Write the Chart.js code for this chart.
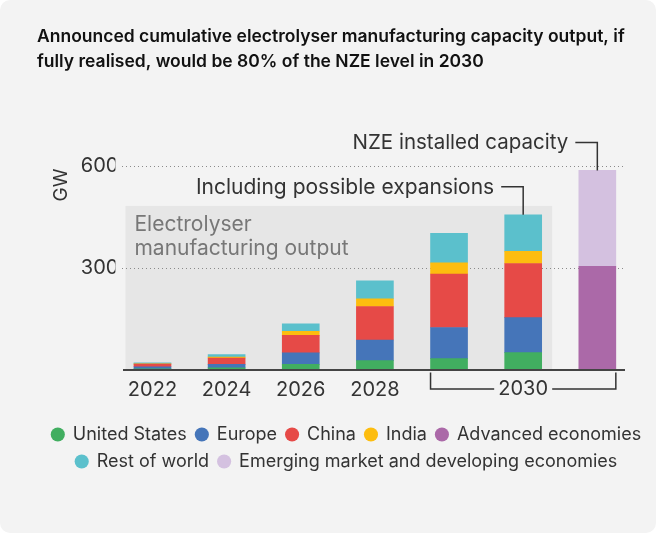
<!DOCTYPE html>
<html>
<head>
<meta charset="utf-8">
<script src="https://cdn.jsdelivr.net/npm/chart.js@4.4.1/dist/chart.umd.min.js"></script>
<style>
  html, body { margin: 0; padding: 0; background: #ffffff; }
  #card { position: absolute; left: 0; top: 0; width: 656px; height: 533px; background: #f3f3f3; border-radius: 10px; }
  #chart { position: absolute; left: 0; top: 0; }
</style>
</head>
<body>
<div id="card"></div>
<canvas id="chart" width="658" height="535"></canvas>
<script>
// categories and tick labels
var categories = ['2022', '2024', '2026', '2028', '2030', '2030 incl. expansions', 'NZE 2030'];
var tickLabels = ['2022', '2024', '2026', '2028', '', '', ''];
var bracketLabel = '2030';
var yTicks = [300, 600];

// GW
var unitedStates = [2, 5, 15, 26, 32, 50, null];
var europe = [6, 10, 34, 61, 92, 103, null];
var china = [8, 19, 52, 99, 158, 160, null];
var india = [1, 3, 12, 23, 33, 36, null];
var advanced = [null, null, null, null, null, null, 305];
var restOfWorld = [3, 7, 22, 53, 87, 108, null];
var emerging = [null, null, null, null, null, null, 283];

var outputBoxTop = 483;

var FONT = 'Inter, "Noto Sans", sans-serif';
var TEXT = '#333333';

function stackTotal(i) {
  return [unitedStates, europe, china, india, advanced, restOfWorld, emerging]
    .reduce(function (s, arr) { return s + (arr[i] || 0); }, 0);
}

function ds(label, data, color) {
  return { label: label, data: data, backgroundColor: color, borderWidth: 0, stack: 'a', barThickness: 37 };
}

var decor = {
  id: 'decor',
  beforeDatasetsDraw: function (chart) {
    var ctx = chart.ctx, x = chart.scales.x, y = chart.scales.y;
    var y0 = y.getPixelForValue(0);
    // shaded "manufacturing output" area
    var left = x.getPixelForValue(0) - 27;
    var right = x.getPixelForValue(5) + 29;
    var top = y.getPixelForValue(outputBoxTop);
    ctx.save();
    ctx.fillStyle = '#e6e6e6';
    ctx.fillRect(left, top, right - left, y0 - top);
    ctx.fillStyle = '#777777';
    ctx.font = '21px ' + FONT;
    ctx.textAlign = 'left';
    ctx.textBaseline = 'alphabetic';
    ctx.fillText('Electrolyser', left + 9, top + 25);
    ctx.fillText('manufacturing output', left + 9, top + 49);
    // dotted gridlines
    ctx.strokeStyle = '#8a8a8a';
    ctx.lineWidth = 1;
    ctx.setLineDash([1, 3]);
    yTicks.forEach(function (v) {
      var py = Math.round(y.getPixelForValue(v)) + 0.5;
      ctx.beginPath();
      ctx.moveTo(122, py);
      ctx.lineTo(623, py);
      ctx.stroke();
    });
    ctx.restore();
  },
  afterDatasetsDraw: function (chart) {
    var ctx = chart.ctx, x = chart.scales.x, y = chart.scales.y;
    var y0 = y.getPixelForValue(0);
    ctx.save();
    // axis line
    ctx.strokeStyle = '#444444';
    ctx.lineWidth = 2;
    ctx.beginPath();
    ctx.moveTo(123, y0 + 0.5);
    ctx.lineTo(625, y0 + 0.5);
    ctx.stroke();

    // 2030 bracket
    var bl = x.getPixelForValue(4) - 18.5, br = x.getPixelForValue(6) + 18.5;
    var bc = (bl + br) / 2, by = y0 + 19.5;
    ctx.strokeStyle = TEXT;
    ctx.lineWidth = 1.5;
    ctx.beginPath();
    ctx.moveTo(bl, y0 + 3); ctx.lineTo(bl, by); ctx.lineTo(bc - 29, by);
    ctx.moveTo(bc + 29, by); ctx.lineTo(br, by); ctx.lineTo(br, y0 + 3);
    ctx.stroke();
    ctx.fillStyle = TEXT;
    ctx.font = '20px ' + FONT;
    ctx.textAlign = 'center';
    ctx.textBaseline = 'middle';
    ctx.fillText(bracketLabel, bc, by);

    // annotations
    function note(i, text, size) {
      var cx = x.getPixelForValue(i);
      var top = y.getPixelForValue(stackTotal(i));
      var ly = top - 28;
      ctx.beginPath();
      ctx.moveTo(cx - 22, ly); ctx.lineTo(cx, ly); ctx.lineTo(cx, top);
      ctx.stroke();
      ctx.textAlign = 'right';
      ctx.textBaseline = 'alphabetic';
      ctx.font = size + 'px ' + FONT;
      ctx.fillText(text, cx - 29, ly + 7);
    }
    note(6, 'NZE installed capacity', 20.5);
    note(5, 'Including possible expansions', 21);

    // unit label
    ctx.save();
    ctx.translate(61, 185);
    ctx.rotate(-Math.PI / 2);
    ctx.textAlign = 'center';
    ctx.textBaseline = 'middle';
    ctx.font = '19px ' + FONT;
    ctx.fillText('GW', 0, 0);
    ctx.restore();

    // title
    ctx.fillStyle = '#111111';
    ctx.font = '600 17.5px ' + FONT;
    ctx.textAlign = 'left';
    ctx.textBaseline = 'alphabetic';
    ctx.fillText('Announced cumulative electrolyser manufacturing capacity output, if', 37, 42);
    ctx.fillText('fully realised, would be 80% of the NZE level in 2030', 37, 67);
    ctx.restore();
  }
};

new Chart(document.getElementById('chart'), {
  type: 'bar',
  data: {
    labels: categories,
    datasets: [
      ds('United States', unitedStates, '#41ae60'),
      ds('Europe', europe, '#4575b9'),
      ds('China', china, '#e64a47'),
      ds('India', india, '#fdbd0f'),
      ds('Advanced economies', advanced, '#ab69a8'),
      ds('Rest of world', restOfWorld, '#5bc0cc'),
      ds('Emerging market and developing economies', emerging, '#d4c1e0')
    ]
  },
  options: {
    responsive: false,
    animation: false,
    layout: { padding: { left: 35, right: 0, top: 98.6, bottom: 54.5 } },
    plugins: {
      tooltip: { enabled: false },
      legend: {
        position: 'bottom',
        labels: {
          usePointStyle: true,
          pointStyle: 'circle',
          boxWidth: 12,
          boxHeight: 10,
          padding: 9,
          color: TEXT,
          font: { family: FONT, size: 18 }
        }
      }
    },
    scales: {
      x: {
        stacked: true,
        grid: { display: false, drawTicks: false },
        border: { display: false },
        ticks: {
          color: TEXT,
          font: { family: FONT, size: 20 },
          padding: 8,
          maxRotation: 0,
          autoSkip: false,
          callback: function (v, i) { return tickLabels[i]; }
        },
        afterFit: function (s) { s.height = 47; }
      },
      y: {
        stacked: true,
        min: 0,
        max: 800,
        grid: { display: false, drawTicks: false },
        border: { display: false },
        ticks: { color: TEXT, font: { family: FONT, size: 20 }, padding: -3 },
        afterBuildTicks: function (s) { s.ticks = yTicks.map(function (v) { return { value: v }; }); },
        afterFit: function (s) { s.width = 80.4; }
      },
      y2: {
        position: 'right',
        grid: { display: false, drawTicks: false },
        border: { display: false },
        ticks: { display: false },
        afterFit: function (s) { s.width = 23.6; }
      }
    }
  },
  plugins: [decor]
});
</script>
</body>
</html>
